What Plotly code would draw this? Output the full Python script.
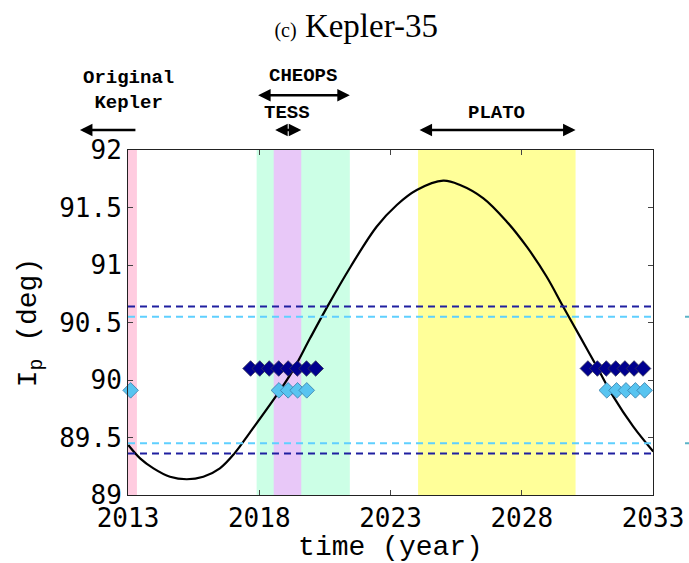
import plotly.graph_objects as go

# Model curve of the planet's sky-plane inclination (deg) vs time (year)
curve_year = [2013.01, 2013.46, 2013.97, 2014.60, 2015.24, 2015.87, 2016.50, 2017.05,
              2017.65, 2018.79, 2019.30, 2019.93, 2020.60, 2021.48, 2022.47,
              2023.24, 2024.00, 2025.01, 2025.65, 2026.54, 2027.43, 2028.19, 2028.95,
              2029.58, 2030.22, 2030.86, 2031.49, 2032.25, 2033.01]
curve_inc = [89.435, 89.319, 89.232, 89.159, 89.137, 89.159, 89.232, 89.360,
             89.545, 89.910, 90.090, 90.360, 90.640, 90.985, 91.333,
             91.522, 91.652, 91.733, 91.696, 91.580, 91.377, 91.159, 90.898,
             90.637, 90.377, 90.116, 89.855, 89.594, 89.377]

# Transit-window limits
dark_limits = [90.64, 89.36]
light_limits = [90.55, 89.45]

# Transit epochs
dark_year = [2017.67, 2018.02, 2018.38, 2018.74, 2019.10, 2019.45, 2019.80, 2020.15,
             2030.52, 2030.88, 2031.22, 2031.58, 2031.93, 2032.28, 2032.62]
dark_inc = [90.10] * len(dark_year)
light_year = [2013.10, 2018.75, 2019.10, 2019.46, 2019.81,
              2031.24, 2031.61, 2031.97, 2032.33, 2032.68, 2033.03]
light_inc = [89.91] * len(light_year)

# Observing missions (start, end, fill)
kepler = (2009.35, 2013.34, "#ffcce0")
cheops = (2017.90, 2021.45, "#ccffe6")
tess = (2018.55, 2019.60, "#e8c8f8")
plato = (2024.05, 2030.05, "#ffff99")

fig = go.Figure()

shapes = []
for start, end, color in (kepler, cheops, tess, plato):
    shapes.append(dict(type="rect", xref="x", yref="paper", x0=start, x1=end,
                       y0=0, y1=1, fillcolor=color, line=dict(width=0),
                       layer="below"))
for v in dark_limits:
    shapes.append(dict(type="line", xref="paper", yref="y", x0=0, x1=1, y0=v, y1=v,
                       line=dict(color="#1f1fa0", width=2, dash="7px,5px")))
for v in light_limits:
    shapes.append(dict(type="line", xref="paper", yref="y", x0=0, x1=1, y0=v, y1=v,
                       line=dict(color="#5fd0ff", width=2, dash="7px,5px")))
    # short stubs at the far right edge
    shapes.append(dict(type="line", xref="paper", yref="y", x0=1.061, x1=1.075,
                       y0=v, y1=v, line=dict(color="#5ab4c8", width=2)))

fig.add_trace(go.Scatter(x=curve_year, y=curve_inc, mode="lines",
                         line=dict(color="black", width=2.2, shape="spline",
                                   smoothing=1.0),
                         showlegend=False, hoverinfo="skip"))
fig.add_trace(go.Scatter(x=dark_year, y=dark_inc, mode="markers", cliponaxis=False,
                         marker=dict(symbol="diamond", size=12, color="#00008f",
                                     line=dict(color="#333355", width=0.8)),
                         showlegend=False))
fig.add_trace(go.Scatter(x=light_year, y=light_inc, mode="markers", cliponaxis=False,
                         marker=dict(symbol="diamond", size=12, color="#58c4f0",
                                     line=dict(color="#3a7ea8", width=0.8)),
                         showlegend=False))

ann = []
label_font = dict(family="Liberation Mono", size=19, color="black")


def arrow(x_head, x_tail, y, both=True):
    return dict(x=x_head, y=y, xref="x", yref="paper", ax=x_tail, ay=0,
                axref="x", ayref="pixel", showarrow=True, text="",
                arrowhead=2, arrowsize=1, arrowwidth=2.5, arrowcolor="black",
                arrowside="end+start" if both else "end", standoff=0,
                startstandoff=0)


def label(x, y, text):
    return dict(x=x, y=y, xref="x", yref="paper", showarrow=False,
                text="<b>" + text + "</b>", font=label_font,
                xanchor="center", yanchor="middle")


ann.append(label(2013.0, 1.172, "Original<br>Kepler"))
ann.append(arrow(2011.17, kepler[1], 1.058, both=False))
ann.append(label((cheops[0] + cheops[1]) / 2, 1.214, "CHEOPS"))
ann.append(arrow(cheops[1], cheops[0], 1.159))
ann.append(label((tess[0] + tess[1]) / 2, 1.107, "TESS"))
ann.append(arrow(tess[1], tess[0], 1.058))
ann.append(label((plato[0] + plato[1]) / 2, 1.107, "PLATO"))
ann.append(arrow(plato[1], plato[0], 1.058))

tick_font = dict(family="DejaVu Sans Mono", size=26, color="black")
title_font = dict(family="Liberation Mono", size=28, color="black")

fig.update_layout(
    width=689, height=563,
    margin=dict(l=128, r=36, t=150, b=68, autoexpand=False),
    paper_bgcolor="white", plot_bgcolor="white",
    title=dict(text="<span style='font-size:20px'>(c)</span> Kepler-35",
               x=0.517, xref="container", xanchor="center",
               y=0.955, yref="container", yanchor="middle",
               font=dict(family="Liberation Serif", size=33, color="black")),
    shapes=shapes,
    annotations=ann,
    xaxis=dict(range=[2013, 2033], tickvals=[2013, 2018, 2023, 2028, 2033],
               showgrid=False, zeroline=False, showline=True, linecolor="#222",
               linewidth=1, mirror="ticks", ticks="inside", ticklen=5,
               tickcolor="#444", tickfont=tick_font, automargin=False,
               title=dict(text="time (year)", font=title_font, standoff=10)),
    yaxis=dict(range=[89, 92], dtick=0.5, showgrid=False, zeroline=False,
               showline=True, linecolor="#222", linewidth=1, mirror="ticks",
               ticks="inside", ticklen=5, tickcolor="#444", tickfont=tick_font,
               automargin=False,
               title=dict(text="I<sub>p</sub> (deg)", font=title_font, standoff=14)),
)

fig.write_html("out.html")
